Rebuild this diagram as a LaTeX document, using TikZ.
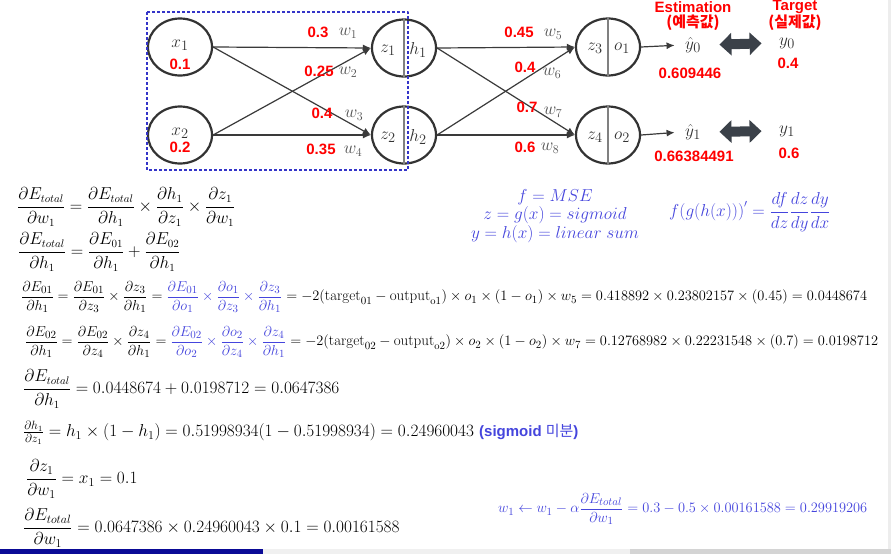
\documentclass[tikz,border=0pt]{standalone}
\usepackage{fontspec}
\setsansfont{Liberation Sans}
\newfontfamily\krfont{Noto Sans CJK KR}
\usetikzlibrary{arrows.meta,shapes.geometric}
\definecolor{figink}{HTML}{333333}
\definecolor{figline}{HTML}{3A3A3A}
\definecolor{figgray}{HTML}{505050}
\definecolor{figred}{HTML}{FF0000}
\definecolor{figblue}{HTML}{4545DD}
\definecolor{boxblue}{HTML}{3434C8}
\definecolor{dblgray}{HTML}{3B4149}
\definecolor{barblue}{HTML}{0A0A96}

\begin{document}
\begin{tikzpicture}[
  x=1pt,y=-1pt,
  line join=round,
  >={Latex[length=8pt,width=7pt]},
  neuron/.style={draw=figink,ellipse,line width=2.2pt,minimum width=64pt,
    minimum height=57pt,inner sep=0pt},
  conn/.style={->,draw=figline,line width=1.2pt},
  divider/.style={draw=gray,line width=1.1pt},
  dotbox/.style={draw=boxblue,line width=2.6pt,dash pattern=on 2.6pt off 2.4pt},
  mlab/.style={text=figink,font=\fontsize{19}{22}\selectfont},
  wlab/.style={text=figgray,font=\fontsize{17}{20}\selectfont},
  val/.style={text=figred,font=\fontsize{15}{18}\selectfont\sffamily\bfseries,inner sep=1pt},
  kr/.style={text=figred,font=\fontsize{15}{18}\selectfont\krfont\bfseries,inner sep=0pt},
  dbl/.style={draw=dblgray,line width=10pt,{Triangle[length=12pt,width=22pt]}-{Triangle[length=12pt,width=22pt]}},
  eq/.style={anchor=west,inner sep=0pt,font=\fontsize{16}{19}\selectfont},
  beq/.style={anchor=west,inner sep=0pt,text=figblue,font=\fontsize{15}{18}\selectfont}
]
\useasboundingbox (0,0) rectangle (891,554);

% screen edges of the capture
\fill[white] (0,0) rectangle (891,554);
\fill[black!7] (888,0) rectangle (891,549);
\fill[barblue] (0,549) rectangle (263,554);
\fill[black!6] (263,549) rectangle (630,554);
\fill[black!17] (630,549) rectangle (891,554);

% input layer and hidden/output neurons
\node[neuron] (x1) at (180,47) {};
\node[neuron] (x2) at (180,135) {};
\node[neuron] (n1) at (404,48) {};
\node[neuron] (n2) at (404,135) {};
\node[neuron] (n3) at (608,47) {};
\node[neuron] (n4) at (608,135) {};
\draw[divider] (n1.north) -- (n1.south);
\draw[divider] (n2.north) -- (n2.south);
\draw[divider] (n3.north) -- (n3.south);
\draw[divider] (n4.north) -- (n4.south);

\draw[dotbox] (147,12) rectangle (408,170);

\node[mlab] (lx1) at (180,45) {$x_1$};
\node[mlab] (lx2) at (180,133) {$x_2$};
\node[mlab] (lz1) at (388,50) {$z_1$};
\node[mlab] (lh1) at (418,50) {$h_1$};
\node[mlab] (lz2) at (388,137) {$z_2$};
\node[mlab] (lh2) at (418,137) {$h_2$};
\node[mlab] (lz3) at (595,48) {$z_3$};
\node[mlab] (lo1) at (622,48) {$o_1$};
\node[mlab] (lz4) at (595,137) {$z_4$};
\node[mlab] (lo2) at (622,137) {$o_2$};

% weights
\draw[conn] (x1.east) -- (n1.west);
\draw[conn] (x1.east) -- (n2.west);
\draw[conn] (x2.east) -- (n1.west);
\draw[conn] (x2.east) -- (n2.west);
\draw[conn] (n1.east) -- (n3.west);
\draw[conn] (n1.east) -- (n4.west);
\draw[conn] (n2.east) -- (n3.west);
\draw[conn] (n2.east) -- (n4.west);

\node[wlab] (w1) at (348,33) {$w_1$};
\node[wlab] (w2) at (348,72) {$w_2$};
\node[wlab] (w3) at (354,115) {$w_3$};
\node[wlab] (w4) at (353,151) {$w_4$};
\node[wlab] (w5) at (553,34) {$w_5$};
\node[wlab] (w6) at (552,73) {$w_6$};
\node[wlab] (w7) at (553,112) {$w_7$};
\node[wlab] (w8) at (550,148) {$w_8$};

\node[val] (vx1) at (180,64) {0.1};
\node[val] (vx2) at (180,147) {0.2};
\node[val] (v1) at (318,32) {0.3};
\node[val] (v2) at (319,71) {0.25};
\node[val] (v3) at (322,113) {0.4};
\node[val] (v4) at (321,149) {0.35};
\node[val] (v5) at (519,32) {0.45};
\node[val] (v6) at (525,67) {0.4};
\node[val] (v7) at (527,107) {0.7};
\node[val] (v8) at (525,147) {0.6};

% estimation vs target
\node[mlab] (yh0) at (693,45) {$\hat{y}_0$};
\node[mlab] (yh1) at (693,132) {$\hat{y}_1$};
\node[mlab] (y0) at (787,43) {$y_0$};
\node[mlab] (y1) at (787,131) {$y_1$};
\draw[conn,shorten >=7pt] (n3.east) -- (yh0.west);
\draw[conn,shorten >=7pt] (n4.east) -- (yh1.west);
\draw[dbl,shorten <=15pt,shorten >=14pt] (yh0.east) -- (y0.west);
\draw[dbl,shorten <=15pt,shorten >=14pt] (yh1.east) -- (y1.west);

\node[val,inner sep=0pt] (est) at (693,7) {Estimation};
\node[kr] (estk) at (693,23) {(예측값)};
\node[val,inner sep=0pt] (tgt) at (795,7) {Target};
\node[kr] (tgtk) at (795,23) {(실제값)};
\node[val] (vy0h) at (690,73) {0.609446};
\node[val] (vy1h) at (694,156) {0.66384491};
\node[val] (vy0) at (788,63) {0.4};
\node[val] (vy1) at (789,153) {0.6};

% chain rule for w1
\node[eq] (eqa) at (17,207) {$\displaystyle \frac{\partial E_{total}}{\partial w_1}=\frac{\partial E_{total}}{\partial h_1}\times\frac{\partial h_1}{\partial z_1}\times\frac{\partial z_1}{\partial w_1}$};
\node[eq] (eqb) at (18,252) {$\displaystyle \frac{\partial E_{total}}{\partial h_1}=\frac{\partial E_{01}}{\partial h_1}+\frac{\partial E_{02}}{\partial h_1}$};
\node[beq,align=center,anchor=center,font=\fontsize{16}{18.5}\selectfont] (defs) at (555,216)
  {$f=MSE$\\$z=g(x)=sigmoid$\\$y=h(x)=linear\ sum$};
\node[beq,font=\fontsize{16}{19}\selectfont] (chain) at (669,212)
  {$\displaystyle f\Big(g\big(h(x)\big)\Big)'=\frac{df}{dz}\frac{dz}{dy}\frac{dy}{dx}$};

\node[eq,font=\fontsize{15}{18}\selectfont] (eqc) at (21,297) {$\displaystyle \frac{\partial E_{01}}{\partial h_1}=\frac{\partial E_{01}}{\partial z_3}\times\frac{\partial z_3}{\partial h_1}={\color{figblue}\frac{\partial E_{01}}{\partial o_1}\times\frac{\partial o_1}{\partial z_3}\times\frac{\partial z_3}{\partial h_1}}=-2(\mathrm{target}_{01}-\mathrm{output}_{\mathrm{o}1})\times o_1\times(1-o_1)\times w_5=0.418892\times0.23802157\times(0.45)=0.0448674$};
\node[eq,font=\fontsize{15}{18}\selectfont] (eqd) at (25,342) {$\displaystyle \frac{\partial E_{02}}{\partial h_1}=\frac{\partial E_{02}}{\partial z_4}\times\frac{\partial z_4}{\partial h_1}={\color{figblue}\frac{\partial E_{02}}{\partial o_2}\times\frac{\partial o_2}{\partial z_4}\times\frac{\partial z_4}{\partial h_1}}=-2(\mathrm{target}_{02}-\mathrm{output}_{\mathrm{o}2})\times o_2\times(1-o_2)\times w_7=0.12768982\times0.22231548\times(0.7)=0.0198712$};
\node[eq] (eqe) at (23,389) {$\displaystyle \frac{\partial E_{total}}{\partial h_1}=0.0448674+0.0198712=0.0647386$};
\node[eq,font=\fontsize{17}{20}\selectfont] (eqf) at (23,433) {$\frac{\partial h_1}{\partial z_1}=h_1\times(1-h_1)=0.51998934(1-0.51998934)=0.24960043$
  {\color{figblue}\sffamily\bfseries\fontsize{15}{18}\selectfont(sigmoid {\krfont\mdseries 미분})}};
\node[eq,font=\fontsize{17}{20}\selectfont] (eqg) at (26,479) {$\displaystyle \frac{\partial z_1}{\partial w_1}=x_1=0.1$};
\node[eq,font=\fontsize{17}{20}\selectfont] (eqh) at (23,528) {$\displaystyle \frac{\partial E_{total}}{\partial w_1}=0.0647386\times0.24960043\times0.1=0.00161588$};

% weight update
\node[beq] (upd) at (498,509) {$\displaystyle w_1\leftarrow w_1-\alpha\frac{\partial E_{total}}{\partial w_1}=0.3-0.5\times0.00161588=0.29919206$};

\end{tikzpicture}
\end{document}
